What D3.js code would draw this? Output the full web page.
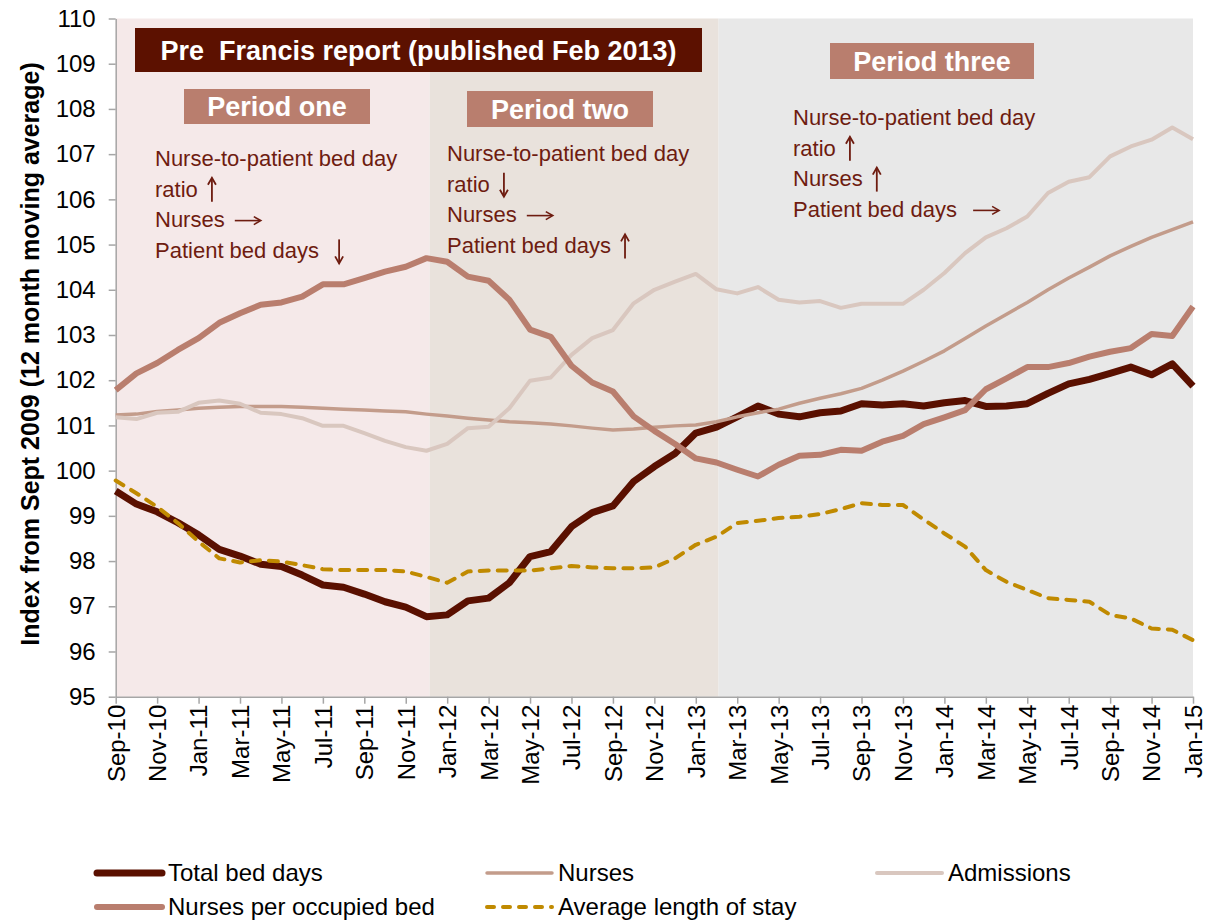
<!DOCTYPE html>
<html>
<head>
<meta charset="utf-8">
<script src="https://cdn.jsdelivr.net/npm/d3@7"></script>
<style>
  body { margin: 0; background: #fff; }
  svg { display: block; font-family: "Liberation Sans", Arial, sans-serif; }
</style>
</head>
<body>
<div id="chart"></div>
<script>
// month labels, Sep-10 .. Jan-15
const months = ["Sep-10","Oct-10","Nov-10","Dec-10","Jan-11","Feb-11","Mar-11","Apr-11","May-11","Jun-11","Jul-11","Aug-11",
  "Sep-11","Oct-11","Nov-11","Dec-11","Jan-12","Feb-12","Mar-12","Apr-12","May-12","Jun-12","Jul-12","Aug-12",
  "Sep-12","Oct-12","Nov-12","Dec-12","Jan-13","Feb-13","Mar-13","Apr-13","May-13","Jun-13","Jul-13","Aug-13",
  "Sep-13","Oct-13","Nov-13","Dec-13","Jan-14","Feb-14","Mar-14","Apr-14","May-14","Jun-14","Jul-14","Aug-14",
  "Sep-14","Oct-14","Nov-14","Dec-14","Jan-15"];

const totalBedDays = [99.55,99.26,99.09,98.85,98.58,98.26,98.11,97.93,97.88,97.69,97.47,97.42,
  97.27,97.10,96.98,96.77,96.81,97.12,97.18,97.52,98.10,98.21,98.76,99.07,
  99.22,99.76,100.09,100.38,100.83,100.96,101.19,101.43,101.25,101.19,101.28,101.32,
  101.48,101.45,101.48,101.43,101.50,101.55,101.42,101.43,101.48,101.71,101.92,102.02,
  102.15,102.29,102.12,102.36,101.87];

const nurses = [101.23,101.25,101.31,101.34,101.38,101.40,101.42,101.42,101.42,101.40,101.38,101.36,
  101.34,101.32,101.30,101.25,101.21,101.16,101.12,101.08,101.06,101.03,100.99,100.94,
  100.90,100.92,100.96,100.99,101.01,101.08,101.19,101.28,101.36,101.49,101.60,101.70,
  101.82,102.00,102.20,102.42,102.65,102.92,103.20,103.46,103.72,104.00,104.26,104.50,
  104.75,104.96,105.16,105.33,105.50];

const admissions = [101.18,101.14,101.28,101.30,101.50,101.55,101.48,101.28,101.25,101.16,100.99,100.99,
  100.83,100.66,100.52,100.44,100.59,100.94,100.97,101.38,101.99,102.06,102.56,102.93,
  103.11,103.70,104.00,104.18,104.35,104.01,103.92,104.06,103.78,103.72,103.75,103.60,
  103.69,103.69,103.69,104.00,104.37,104.81,105.16,105.36,105.62,106.14,106.39,106.49,
  106.95,107.17,107.32,107.59,107.33];

const nursesPerBed = [101.78,102.15,102.38,102.67,102.93,103.27,103.48,103.67,103.72,103.85,104.12,104.12,
  104.26,104.40,104.51,104.70,104.62,104.29,104.20,103.78,103.12,102.96,102.32,101.95,
  101.75,101.20,100.88,100.59,100.27,100.18,100.02,99.87,100.13,100.33,100.35,100.46,
  100.44,100.64,100.77,101.03,101.18,101.34,101.80,102.04,102.29,102.29,102.38,102.52,
  102.63,102.71,103.02,102.98,103.63];

const avgStay = [99.78,99.50,99.20,98.84,98.43,98.06,97.97,98.02,97.99,97.91,97.82,97.80,
  97.80,97.80,97.77,97.65,97.52,97.77,97.79,97.79,97.79,97.84,97.89,97.86,
  97.84,97.84,97.86,98.06,98.36,98.54,98.84,98.89,98.95,98.98,99.04,99.15,
  99.28,99.24,99.24,98.92,98.61,98.32,97.80,97.54,97.36,97.18,97.14,97.10,
  96.81,96.73,96.51,96.48,96.25];

// shaded periods, in month-index units
const periodNames = ["Period one", "Period two", "Period three"];
const periodStart = [0, 15.15, 29.1];
const periodEnd = [15.15, 29.1, 52];
const periodFill = ["#f5e9e9", "#e9e2dc", "#e8e8e8"];

// note lines: [text, arrow] with arrow one of "up", "down", "right", ""
const periodNotes = [
  [["Nurse-to-patient bed day", ""], ["ratio", "up"], ["Nurses", "right"], ["Patient bed days ", "down"]],
  [["Nurse-to-patient bed day", ""], ["ratio", "down"], ["Nurses", "right"], ["Patient bed days", "up"]],
  [["Nurse-to-patient bed day", ""], ["ratio", "up"], ["Nurses", "up"], ["Patient bed days ", "right"]]
];

const series = [
  { name: "Total bed days", values: totalBedDays, color: "#5a1000", width: 7 },
  { name: "Nurses", values: nurses, color: "#c39c8b", width: 3.5 },
  { name: "Admissions", values: admissions, color: "#d9c7bf", width: 4 },
  { name: "Nurses per occupied bed", values: nursesPerBed, color: "#b97e6e", width: 6 },
  { name: "Average length of stay", values: avgStay, color: "#c08a00", width: 4, dash: "9,9" }
];

const W = 1206, H = 922;
const plotL = 115.7, plotR = 1193, plotT = 18.5, plotB = 696.7;

const x = d3.scaleLinear().domain([0, months.length - 1]).range([plotL, plotR]);
const y = d3.scaleLinear().domain([95, 110]).range([plotB, plotT]);

const svg = d3.select("#chart").append("svg")
  .attr("width", W)
  .attr("height", H);

svg.append("rect").attr("width", W).attr("height", H).attr("fill", "#fff");

// period backgrounds
svg.append("g").selectAll("rect")
  .data(periodNames)
  .enter()
  .append("rect")
  .attr("x", (d, i) => x(periodStart[i]))
  .attr("width", (d, i) => x(periodEnd[i]) - x(periodStart[i]))
  .attr("y", plotT)
  .attr("height", plotB - plotT)
  .attr("fill", (d, i) => periodFill[i]);

// annotation boxes
const boxes = [
  { text: "Pre  Francis report (published Feb 2013)", x0: 135, x1: 702, y0: 28, y1: 72, fill: "#5c1100" },
  { text: periodNames[0], x0: 184, x1: 370, y0: 89, y1: 124, fill: "#b97e6e" },
  { text: periodNames[1], x0: 467, x1: 653, y0: 91, y1: 127, fill: "#b97e6e" },
  { text: periodNames[2], x0: 830, x1: 1034, y0: 43, y1: 79, fill: "#b97e6e" }
];
const boxG = svg.append("g").selectAll("g").data(boxes).enter().append("g");
boxG.append("rect")
  .attr("x", d => d.x0).attr("y", d => d.y0)
  .attr("width", d => d.x1 - d.x0).attr("height", d => d.y1 - d.y0)
  .attr("fill", d => d.fill);
boxG.append("text")
  .attr("x", d => (d.x0 + d.x1) / 2)
  .attr("y", d => (d.y0 + d.y1) / 2)
  .attr("dy", "0.36em")
  .attr("text-anchor", "middle")
  .attr("fill", "#fff")
  .attr("font-weight", "bold")
  .attr("font-size", "27px")
  .style("white-space", "pre")
  .text(d => d.text);

// period notes
const noteColor = "#6e1c10";
const noteX = [155, 447, 793];
const noteY = [158, 153, 117];
periodNotes.forEach((lines, i) => {
  lines.forEach((ln, j) => {
    const ty = noteY[i] + j * 30.8;
    const t = svg.append("text")
      .attr("x", noteX[i])
      .attr("y", ty)
      .attr("dy", "0.35em")
      .attr("font-size", "22px")
      .attr("fill", noteColor)
      .style("white-space", "pre")
      .text(ln[0] + (ln[1] ? " " : ""));
    if (!ln[1]) return;
    const ax = noteX[i] + t.node().getComputedTextLength() + 4;
    if (ln[1] === "right") {
      svg.append("line")
        .attr("x1", ax).attr("x2", ax + 25).attr("y1", ty + 1).attr("y2", ty + 1)
        .attr("stroke", noteColor).attr("stroke-width", 1.6);
      svg.append("path")
        .attr("d", `M${ax + 19},${ty - 3}L${ax + 26},${ty + 1}L${ax + 19},${ty + 5}`)
        .attr("fill", "none").attr("stroke", noteColor).attr("stroke-width", 1.6);
    } else {
      const dir = ln[1] === "up" ? -1 : 1;
      const cx = ax + 4;
      const y0 = ty + 1 - dir * 12, y1 = ty + 1 + dir * 12;
      svg.append("line")
        .attr("x1", cx).attr("x2", cx).attr("y1", y0).attr("y2", y1)
        .attr("stroke", noteColor).attr("stroke-width", 1.8);
      svg.append("path")
        .attr("d", `M${cx - 4},${y1 - dir * 7}L${cx},${y1}L${cx + 4},${y1 - dir * 7}`)
        .attr("fill", "none").attr("stroke", noteColor).attr("stroke-width", 1.8);
    }
  });
});

// axes
const yAxis = svg.append("g")
  .attr("transform", `translate(${plotL},0)`)
  .call(d3.axisLeft(y).tickValues(d3.range(95, 111)).tickSize(7).tickPadding(13).tickSizeOuter(0));
yAxis.select(".domain").attr("stroke", "#a6a6a6").attr("stroke-width", 1.5);
yAxis.selectAll(".tick line").attr("stroke", "#a6a6a6").attr("stroke-width", 1.5);
yAxis.selectAll(".tick text").attr("font-size", "24px").attr("fill", "#000")
  .attr("font-family", "'Liberation Sans', Arial, sans-serif");

const xAxis = svg.append("g")
  .attr("transform", `translate(0,${plotB})`)
  .call(d3.axisBottom(x)
    .tickValues(d3.range(0, months.length, 2))
    .tickFormat(i => months[i])
    .tickSize(7).tickSizeOuter(0));
xAxis.select(".domain").attr("stroke", "#a6a6a6").attr("stroke-width", 1.5);
xAxis.selectAll(".tick line").attr("stroke", "#a6a6a6").attr("stroke-width", 1.5);
xAxis.selectAll(".tick text")
  .attr("font-size", "24px").attr("fill", "#000")
  .attr("font-family", "'Liberation Sans', Arial, sans-serif")
  .attr("text-anchor", "end")
  .attr("transform", "translate(0,8) rotate(-90)")
  .attr("x", 0).attr("y", 0)
  .attr("dy", "0.35em");

svg.append("text")
  .attr("transform", "translate(30,354) rotate(-90)")
  .attr("text-anchor", "middle")
  .attr("dy", "0.35em")
  .attr("font-size", "25px")
  .attr("font-weight", "bold")
  .text("Index from Sept 2009 (12 month moving average)");

// lines
const line = d3.line().x((d, i) => x(i)).y(d => y(d));
svg.append("g").selectAll("path")
  .data(series)
  .enter()
  .append("path")
  .attr("d", d => line(d.values))
  .attr("fill", "none")
  .attr("stroke", d => d.color)
  .attr("stroke-width", d => d.width)
  .attr("stroke-linejoin", "round")
  .attr("stroke-linecap", d => d.dash ? "round" : "butt")
  .attr("stroke-dasharray", d => d.dash || null);

// legend
const legendCol = [97, 487, 877];
const legendRow = [873, 907];
const legend = svg.append("g").selectAll("g")
  .data(series)
  .enter()
  .append("g")
  .attr("transform", (d, i) => `translate(${legendCol[i % 3]},${legendRow[Math.floor(i / 3)]})`);
legend.append("line")
  .attr("x1", 0).attr("x2", 65)
  .attr("stroke", d => d.color)
  .attr("stroke-width", d => d.width)
  .attr("stroke-linecap", "round")
  .attr("stroke-dasharray", d => d.dash ? "7,9" : null);
legend.append("text")
  .attr("x", 71)
  .attr("dy", "0.35em")
  .attr("font-size", "24px")
  .attr("fill", "#000")
  .text(d => d.name);
</script>
</body>
</html>
